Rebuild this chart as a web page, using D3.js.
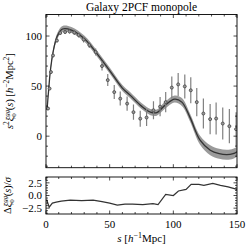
<!DOCTYPE html>
<html>
<head>
<meta charset="utf-8">
<script src="https://cdn.jsdelivr.net/npm/d3@7"></script>
<style>
  body { margin: 0; background: #fff; }
  text { font-family: "Liberation Serif", "DejaVu Serif", serif; fill: #000; }
</style>
</head>
<body>
<div id="chart"></div>
<script>
// measured 2PCF monopole (s, s^2 xi, error)
const dataS = [1.6, 2.8, 3.9, 5.5, 8.6, 11.2, 15, 18.5, 22.2, 25.6, 29.5, 34, 39, 44, 48.5, 53.6, 58.3, 63.7, 68.7, 74, 79, 84.4, 89.6, 94, 98.8, 103.8, 109, 113.7, 118.4, 123.6, 128.9, 133.6, 138.8, 144, 149.3];
const dataXi = [27.6, 47.5, 64, 80.6, 95.5, 103, 104, 104.5, 103.5, 101, 96.5, 91, 84, 70, 56, 44, 37.5, 32.5, 24, 17.5, 18.6, 25.9, 29.5, 34, 48.5, 51.7, 49.7, 45.8, 34, 22.6, 17, 17.6, 12.6, 10, 7];
const dataErr = [1.5, 1.5, 1.5, 2, 2, 2, 2, 2, 2.5, 2.5, 3, 3, 3.5, 4.5, 6, 7, 7, 7, 7.5, 8, 8.5, 9, 9.5, 10, 11, 11.5, 12, 13, 14, 15, 15, 16, 16, 17, 17];

// model mean and 1-sigma band
const modelS = [0.8, 2, 3.4, 5.7, 8.9, 13, 20, 30, 40, 50, 60, 66, 75, 82, 87, 93.6, 101, 106.7, 113, 121, 129, 136, 142, 147, 150];
const modelXi = [26, 45, 65, 85, 100, 107, 106, 97.5, 82.5, 65.5, 48, 41, 30, 24, 23.5, 31, 37, 34, 19, -4, -14, -17.5, -18.5, -17.5, -15.5];
const modelSig = [1.5, 2, 2, 2.5, 3, 3, 3, 3, 3, 3, 3, 3, 3, 3, 3, 3.5, 3.5, 4, 4, 4.5, 5, 5, 5, 5, 5];

// normalised residual
const residS = [0.5, 2.5, 5, 8, 12, 19, 28, 37, 44, 50, 56, 62, 68, 76, 84, 88, 94, 100, 104, 110, 114, 120, 124, 131, 137, 143, 150];
const residVal = [-0.8, -2.3, -1.5, -1.3, -1.1, -0.9, -1.0, -0.9, -1.2, -1.5, -1.9, -1.7, -1.7, -1.8, -1.6, -1.8, 0.2, 0.0, 0.9, 1.2, 2.2, 2.2, 2.0, 2.4, 2.0, 1.7, 1.2];

const xTicks = [0, 50, 100, 150];
const yTicks = [0, 50, 100];
const rTicks = [-2.5, 0, 2.5];

const W = 249, H = 249;
const L = 46, R = 237;
const mainTop = 14.5, mainBot = 167.7;
const resTop = 177, resBot = 214;

const svg = d3.select("#chart").append("svg")
  .attr("width", W).attr("height", H);

const x = d3.scaleLinear().domain([0, 150]).range([L, R]);
const y = d3.scaleLinear().domain([-31.5, 121.5]).range([mainBot, mainTop]);
const yr = d3.scaleLinear().domain([-3.65, 3.65]).range([resBot, resTop]);

const model = modelS.map((s, i) => ({ s, v: modelXi[i], e: modelSig[i] }));
const pts = dataS.map((s, i) => ({ s, v: dataXi[i], e: dataErr[i] }));
const resid = residS.map((s, i) => ({ s, v: residVal[i] }));

svg.append("defs").append("clipPath").attr("id", "clipMain")
  .append("rect").attr("x", L).attr("y", mainTop).attr("width", R - L).attr("height", mainBot - mainTop);

const g = svg.append("g").attr("clip-path", "url(#clipMain)");

// band
g.append("path").datum(model)
  .attr("fill", "#9a9a9a")
  .attr("d", d3.area().curve(d3.curveCatmullRom)
    .x(d => x(d.s)).y0(d => y(d.v - d.e)).y1(d => y(d.v + d.e)));

// mean line
g.append("path").datum(model)
  .attr("fill", "none").attr("stroke", "#333").attr("stroke-width", 1.3)
  .attr("d", d3.line().curve(d3.curveCatmullRom).x(d => x(d.s)).y(d => y(d.v)));

// error bars and points
g.selectAll("line.err").data(pts).join("line")
  .attr("class", "err")
  .attr("x1", d => x(d.s)).attr("x2", d => x(d.s))
  .attr("y1", d => y(d.v - d.e)).attr("y2", d => y(d.v + d.e))
  .attr("stroke", "#808080").attr("stroke-width", 1.2);

g.selectAll("circle").data(pts).join("circle")
  .attr("cx", d => x(d.s)).attr("cy", d => y(d.v)).attr("r", 1.5)
  .attr("fill", "#9a9a9a").attr("stroke", "#444").attr("stroke-width", 0.8);

// residual line
svg.append("path").datum(resid)
  .attr("fill", "none").attr("stroke", "#333").attr("stroke-width", 1.2)
  .attr("d", d3.line().x(d => x(d.s)).y(d => yr(d.v)));

// frames and inward ticks on all sides
function frame(top, bot, ys, yMajor, yMinor, showX) {
  const fg = svg.append("g");
  fg.append("rect").attr("x", L).attr("y", top).attr("width", R - L).attr("height", bot - top)
    .attr("fill", "none").attr("stroke", "#000").attr("stroke-width", 0.9);
  const xMinor = d3.range(0, 151, 10);
  const tick = (x1, y1, x2, y2) => fg.append("line")
    .attr("x1", x1).attr("y1", y1).attr("x2", x2).attr("y2", y2)
    .attr("stroke", "#000").attr("stroke-width", 0.7);
  xMinor.forEach(v => {
    const len = xTicks.includes(v) ? 3.5 : 2;
    tick(x(v), bot, x(v), bot - len);
    tick(x(v), top, x(v), top + len);
  });
  yMinor.forEach(v => {
    const len = yMajor.includes(v) ? 3.5 : 2;
    tick(L, ys(v), L + len, ys(v));
    tick(R, ys(v), R - len, ys(v));
  });
  return fg;
}

const f1 = frame(mainTop, mainBot, y, yTicks, d3.range(-30, 121, 10), false);
yTicks.forEach(v => f1.append("text").attr("x", L - 4).attr("y", y(v)).attr("dy", "0.35em")
  .attr("text-anchor", "end").attr("font-size", 11).text(v));

const f2 = frame(resTop, resBot, yr, rTicks, d3.range(-3.5, 3.51, 0.5).map(v => +v.toFixed(1)), true);
rTicks.forEach(v => f2.append("text").attr("x", L - 4).attr("y", yr(v)).attr("dy", "0.35em")
  .attr("text-anchor", "end").attr("font-size", 11).text(v < 0 ? "\u2212" + (-v).toFixed(1) : v.toFixed(1)));
xTicks.forEach(v => f2.append("text").attr("x", x(v)).attr("y", resBot + 14)
  .attr("text-anchor", "middle").attr("font-size", 11).text(v));

// title
svg.append("text").attr("x", (L + R) / 2).attr("y", 11).attr("text-anchor", "middle")
  .attr("font-size", 11.5).text("Galaxy 2PCF monopole");

// x label
const xl = svg.append("text").attr("x", (L + R) / 2).attr("y", 242)
  .attr("text-anchor", "middle").attr("font-size", 11);
xl.append("tspan").attr("font-style", "italic").text("s");
xl.append("tspan").text(" [");
xl.append("tspan").attr("font-style", "italic").text("h");
xl.append("tspan").attr("font-size", 8).attr("dy", -4).text("\u22121");
xl.append("tspan").attr("dy", 4).text("Mpc]");

// main y label
const yl = svg.append("text").attr("transform", `translate(13,${(mainTop + mainBot) / 2}) rotate(-90)`)
  .attr("text-anchor", "middle").attr("font-size", 10.5);
yl.append("tspan").attr("font-style", "italic").text("s");
yl.append("tspan").attr("font-size", 7.5).attr("dy", -4).text("2");
yl.append("tspan").attr("font-style", "italic").attr("dy", 4).text("\u03be");
yl.append("tspan").attr("font-size", 7).attr("font-style", "italic").attr("dy", -4).text("gg");
yl.append("tspan").attr("font-size", 7).attr("dx", -7).attr("dy", 7).text("0");
yl.append("tspan").attr("dx", 3).attr("dy", -3).text("(");
yl.append("tspan").attr("font-style", "italic").text("s");
yl.append("tspan").text(") [");
yl.append("tspan").attr("font-style", "italic").text("h");
yl.append("tspan").attr("font-size", 7.5).attr("dy", -4).text("\u22122");
yl.append("tspan").attr("dy", 4).text("Mpc");
yl.append("tspan").attr("font-size", 7.5).attr("dy", -4).text("2");
yl.append("tspan").attr("dy", 4).text("]");

// residual y label
const rl = svg.append("text").attr("transform", `translate(11,${(resTop + resBot) / 2}) rotate(-90)`)
  .attr("text-anchor", "middle").attr("font-size", 10.5);
rl.append("tspan").text("\u0394");
rl.append("tspan").attr("font-style", "italic").text("\u03be");
rl.append("tspan").attr("font-size", 7).attr("font-style", "italic").attr("dy", -4).text("gg");
rl.append("tspan").attr("font-size", 7).attr("dx", -7).attr("dy", 7).text("0");
rl.append("tspan").attr("dx", 3).attr("dy", -3).text("(");
rl.append("tspan").attr("font-style", "italic").text("s");
rl.append("tspan").text(")/");
rl.append("tspan").attr("font-style", "italic").text("\u03c3");
</script>
</body>
</html>
